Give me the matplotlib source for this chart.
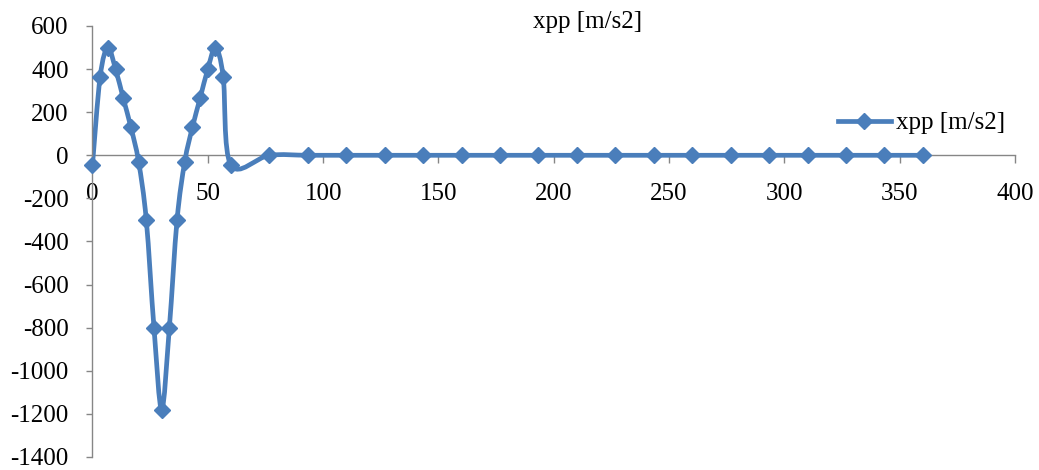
import matplotlib
matplotlib.use('Agg')
import matplotlib.pyplot as plt
from matplotlib.path import Path
from matplotlib.patches import PathPatch
from matplotlib.lines import Line2D
import numpy as np

# data
angle = [0, 3.33, 6.67, 10, 13.33, 16.67, 20, 23.33, 26.67, 30,
         33.33, 36.67, 40, 43.33, 46.67, 50, 53.33, 56.67, 60,
         76.67, 93.33, 110, 126.67, 143.33, 160, 176.67, 193.33, 210,
         226.67, 243.33, 260, 276.67, 293.33, 310, 326.67, 343.33, 360]
xpp = [-45, 365, 500, 400, 265, 130, -30, -300, -800, -1180,
       -800, -300, -30, 130, 265, 400, 500, 365, -45,
       0, 0, 0, 0, 0, 0, 0, 0, 0,
       0, 0, 0, 0, 0, 0, 0, 0, 0]
series_name = 'xpp [m/s2]'
x_ticks = [0, 50, 100, 150, 200, 250, 300, 350, 400]
y_ticks = [-1400, -1200, -1000, -800, -600, -400, -200, 0, 200, 400, 600]

blue = '#4A7EBB'
axis_grey = '#868686'

plt.rcParams['font.family'] = ['Liberation Serif', 'DejaVu Serif']
plt.rcParams['font.size'] = 18
plt.rcParams['axes.unicode_minus'] = False  # Excel uses a plain hyphen


def smooth_path(xs, ys):
    # Excel-like smoothed line: cubic Bezier through the points (Catmull-Rom tangents)
    pts = np.column_stack([xs, ys]).astype(float)
    n = len(pts)
    verts = [pts[0]]
    codes = [Path.MOVETO]
    for i in range(n - 1):
        p0 = pts[max(i - 1, 0)]
        p1 = pts[i]
        p2 = pts[i + 1]
        p3 = pts[min(i + 2, n - 1)]
        c1 = p1 + (p2 - p0) / 6.0
        c2 = p2 - (p3 - p1) / 6.0
        verts += [c1, c2, p2]
        codes += [Path.CURVE4] * 3
    return Path(verts, codes)


fig = plt.figure(figsize=(10.39, 4.70), dpi=100)
ax = fig.add_axes([0.089, 0.0277, 0.888, 0.917])

patch = PathPatch(smooth_path(angle, xpp), facecolor='none', edgecolor=blue,
                  linewidth=3.4, capstyle='round', joinstyle='round', zorder=2)
ax.add_patch(patch)
ax.plot(angle, xpp, linestyle='none', marker='D', markersize=8,
        color=blue, markeredgecolor=blue, markeredgewidth=1, zorder=3, clip_on=False)

ax.set_xlim(0, 400)
ax.set_ylim(-1400, 600)
ax.set_xticks(x_ticks)
ax.set_yticks(y_ticks)

for side in ['top', 'right']:
    ax.spines[side].set_visible(False)
ax.spines['bottom'].set_position(('data', 0))
for side in ['bottom', 'left']:
    ax.spines[side].set_color(axis_grey)
    ax.spines[side].set_linewidth(1)
ax.spines['bottom'].set_zorder(1)

ax.tick_params(axis='x', direction='out', length=6, width=1, color=axis_grey, pad=14)
ax.tick_params(axis='y', direction='out', length=4, width=1, color=axis_grey, pad=13)

fig.text(588 / 1039, 1 - 22 / 470, series_name, ha='center', va='center', fontsize=18)

handle = Line2D([], [], color=blue, linewidth=3.4, marker='D', markersize=8)
fig.legend([handle], [series_name], loc='center left',
           bbox_to_anchor=(838 / 1039, 1 - 123 / 470), frameon=False,
           borderpad=0, borderaxespad=0, handlelength=2.1, handletextpad=0.2,
           numpoints=1, fontsize=18)

fig.savefig('out.png', dpi=100)
